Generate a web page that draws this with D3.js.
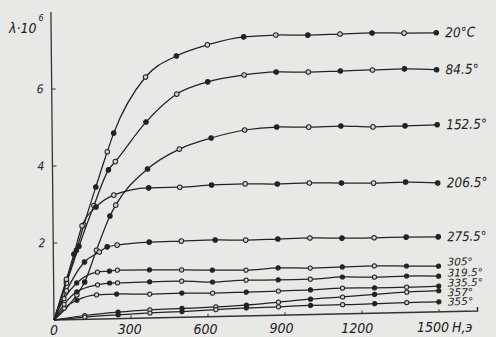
<!DOCTYPE html>
<html>
<head>
<meta charset="utf-8">
<script src="https://cdn.jsdelivr.net/npm/d3@7"></script>
<style>
  body { margin: 0; background: #e8e8e6; }
  svg { display: block; }
  text { font-family: "DejaVu Sans Condensed", "DejaVu Sans", sans-serif; font-style: italic; fill: #222; }
</style>
</head>
<body>
<svg width="496" height="337"></svg>
<script>
// field H (Oe) and magnetostriction lambda*10^6 for each temperature
var hHigh = [750, 875, 1000, 1125, 1250, 1375, 1500];

var h20  = [0, 50, 90, 120, 168, 214, 240, 366, 487, 608].concat(hHigh);
var l20  = [0, 1.0, 1.8, 2.45, 3.43, 4.34, 4.82, 6.26, 6.79, 7.06, 7.25, 7.28, 7.26, 7.27, 7.28, 7.26, 7.25];
var h84  = [0, 50, 100, 160, 218, 245, 366, 487, 608].concat(hHigh);
var l84  = [0, 0.95, 1.9, 2.95, 3.87, 4.08, 5.09, 5.8, 6.1, 6.26, 6.32, 6.3, 6.31, 6.32, 6.33, 6.29];
var h152 = [0, 90, 121, 168, 222, 245, 370, 495, 619].concat(hHigh);
var l152 = [0, 0.64, 0.97, 1.79, 2.67, 2.95, 3.87, 4.37, 4.64, 4.83, 4.89, 4.87, 4.88, 4.84, 4.85, 4.86];
var h206 = [0, 50, 80, 113, 168, 238, 374, 495, 619].concat(hHigh);
var l206 = [0, 1.05, 1.7, 2.43, 2.91, 3.21, 3.38, 3.38, 3.42, 3.43, 3.41, 3.42, 3.40, 3.38, 3.39, 3.35];
var h275 = [0, 50, 121, 179, 210, 249, 374, 499, 631].concat(hHigh);
var l275 = [0, 0.75, 1.49, 1.74, 1.87, 1.91, 1.97, 1.98, 1.99, 1.97, 1.98, 1.99, 1.97, 1.96, 1.96, 1.95];
var h305 = [0, 40, 90, 171, 218, 249, 374, 499, 619].concat(hHigh);
var l305 = [0, 0.55, 0.95, 1.22, 1.24, 1.26, 1.25, 1.23, 1.21, 1.19, 1.23, 1.21, 1.22, 1.23, 1.21, 1.19];
var h319 = [0, 40, 90, 171, 218, 249, 374, 499, 619].concat(hHigh);
var l319 = [0, 0.4, 0.72, 0.89, 0.93, 0.93, 0.94, 0.94, 0.9, 0.93, 0.92, 0.92, 0.96, 0.94, 0.95, 0.93];
var h335 = [0, 40, 90, 167, 245, 374, 499, 619].concat(hHigh);
var l335 = [0, 0.3, 0.5, 0.63, 0.64, 0.62, 0.63, 0.61, 0.62, 0.63, 0.64, 0.67, 0.66, 0.66, 0.67];
var h357 = [0, 120, 250, 374, 499, 631].concat(hHigh);
var l357 = [0, 0.1, 0.17, 0.21, 0.23, 0.25, 0.28, 0.34, 0.40, 0.44, 0.49, 0.53, 0.55];
var h355 = [0, 120, 250, 374, 499, 631].concat(hHigh);
var l355 = [0, 0.06, 0.1, 0.13, 0.15, 0.18, 0.21, 0.22, 0.24, 0.24, 0.25, 0.26, 0.26];

var names = ["20°C", "84.5°", "152.5°", "206.5°", "275.5°", "305°", "319.5°", "335.5°", "357°", "355°"];
var hs = [h20, h84, h152, h206, h275, h305, h319, h335, h357, h355];
var ls = [l20, l84, l152, l206, l275, l305, l319, l335, l357, l355];

var xTicks = [0, 300, 600, 900, 1200, 1500];
var yTicks = [2, 4, 6];

var svg = d3.select("svg");

var x = d3.scaleLinear().domain([0, 1500]).range([54, 439]);
var y = d3.scaleLinear().domain([0, 8]).range([320, 12]);

// the scan is slightly tilted
var g = svg.append("g")
    .attr("transform", "matrix(1,-0.021,0.01,1,-3.2,1.134)");

// axes
g.append("line")
    .attr("x1", x(0)).attr("x2", x(0))
    .attr("y1", y(0)).attr("y2", y(8))
    .attr("stroke", "#333").attr("stroke-width", 1.3);
g.append("path")
    .attr("d", "M" + x(0) + "," + y(0) + "H" + x(1650) + "v-4")
    .attr("fill", "none").attr("stroke", "#333").attr("stroke-width", 1.5);

g.selectAll(".yt").data(yTicks).enter().append("line")
    .attr("x1", x(0)).attr("x2", x(0) + 4)
    .attr("y1", function(d) { return y(d); }).attr("y2", function(d) { return y(d); })
    .attr("stroke", "#333");
g.selectAll(".ytl").data(yTicks).enter().append("text")
    .attr("x", x(0) - 8).attr("y", function(d) { return y(d) + 4; })
    .attr("text-anchor", "end").attr("font-size", 12)
    .text(function(d) { return d; });

g.selectAll(".xt").data(xTicks.slice(1)).enter().append("line")
    .attr("x1", function(d) { return x(d); }).attr("x2", function(d) { return x(d); })
    .attr("y1", y(0)).attr("y2", y(0) - 3)
    .attr("stroke", "#333");

var line = d3.line()
    .x(function(d) { return x(d[0]); })
    .y(function(d) { return y(d[1]); })
    .curve(d3.curveMonotoneX);

names.forEach(function(name, i) {
  var pts = d3.zip(hs[i], ls[i]);
  g.append("path")
      .attr("d", line(pts))
      .attr("fill", "none")
      .attr("stroke", "#222")
      .attr("stroke-width", 1.25);

  g.selectAll(".m" + i)
    .data(pts.slice(1))
    .enter().append("circle")
      .attr("cx", function(d) { return x(d[0]); })
      .attr("cy", function(d) { return y(d[1]); })
      .attr("r", i < 5 ? 2.3 : 2.1)
      .attr("fill", function(d, j) { return (j % 2 == 1 || j == pts.length - 2) ? "#222" : "#cfcfcd"; })
      .attr("stroke", "#222")
      .attr("stroke-width", 1);
});

// curve labels
var labelDy = [0, 0, 0, 0, 0, -4, -3, -3, 2, 0];
names.forEach(function(name, i) {
  var last = ls[i][ls[i].length - 1];
  g.append("text")
      .attr("x", x(1500) + 9)
      .attr("y", y(last) + labelDy[i])
      .attr("dy", "0.35em")
      .attr("font-size", i < 4 ? 13.5 : (i == 4 ? 13 : 10.5))
      .style("font-family", i < 5 ? null : "DejaVu Sans")
      .text(name);
});

// x tick labels (not tilted as much in the scan)
svg.selectAll(".xtl").data(xTicks).enter().append("text")
    .attr("x", function(d) { return x(d) - d * 0.004; })
    .attr("y", function(d) { return 335 - d * 0.002; })
    .attr("text-anchor", "middle")
    .attr("font-size", 14)
    .text(function(d) { return d; });
svg.append("text")
    .attr("x", 452).attr("y", 332)
    .attr("font-size", 14)
    .text("H,э");

// y axis title
var yt = svg.append("text")
    .attr("x", 9).attr("y", 33)
    .attr("font-size", 14)
    .text("λ·10");
yt.append("tspan")
    .attr("dx", 2).attr("dy", -12).attr("font-size", 9)
    .text("6");
</script>
</body>
</html>
